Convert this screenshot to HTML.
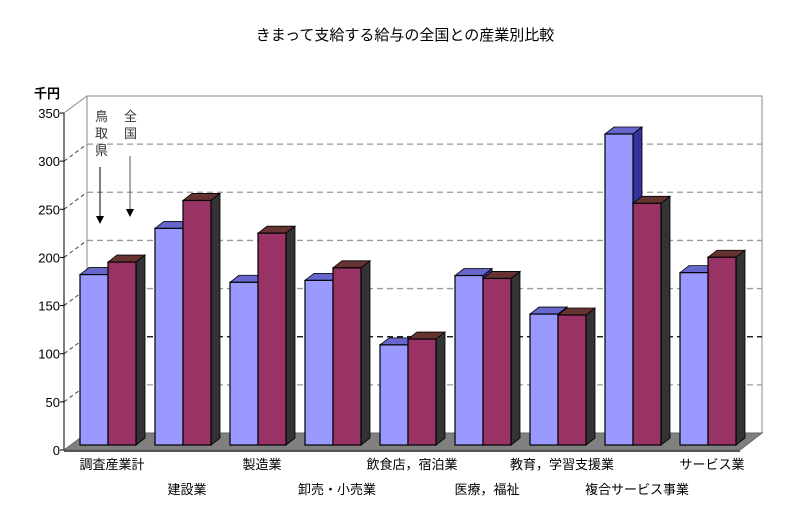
<!DOCTYPE html>
<html><head><meta charset="utf-8"><style>
body{margin:0;background:#fff;width:810px;height:512px;overflow:hidden}
svg{display:block;font-family:"Liberation Sans","Noto Sans CJK JP",sans-serif}
</style></head><body>
<svg id="chart" width="810" height="512" viewBox="0 0 810 512">
<text x="405" y="40" text-anchor="middle" font-size="15" fill="#000">きまって支給する給与の全国との産業別比較</text>
<text x="34" y="98" font-size="13" font-weight="bold">千円</text>
<g id="grid"></g>
<g id="bars"></g>
<g id="axis"></g>
<g font-size="13" fill="#333">
<text x="95" y="121">鳥</text><text x="95" y="138">取</text><text x="95" y="155">県</text>
<text x="124" y="121">全</text><text x="124" y="138">国</text>
<line x1="100" y1="167" x2="100" y2="216" stroke="#000"/><polygon points="96,216 104,216 100,224" fill="#000"/>
<line x1="130" y1="156" x2="130" y2="209" stroke="#555"/><polygon points="126,209 134,209 130,217" fill="#000"/>
</g>
<g id="labels" font-size="13" fill="#000"></g>
</svg>
<script>
const categories=["調査産業計","建設業","製造業","卸売・小売業","飲食店，宿泊業","医療，福祉","教育，学習支援業","複合サービス事業","サービス業"];
const tottori=[177,225,169,171,104,176,136,323,179];
const national=[190,254,220,184,110,173,135,251,195];
const yTicks=[0,50,100,150,200,250,300,350];
const NS="http://www.w3.org/2000/svg";
const X0=64,Y0=450,PX=337/350,DX=23,DY=-17,BASE=445;
const y=v=>Y0-v*PX;
const by=v=>BASE-v*PX;
const gx=i=>80+i*75;
function mk(t,a,p){const e=document.createElementNS(NS,t);for(const k in a)e.setAttribute(k,a[k]);(p||document.getElementById('chart')).appendChild(e);return e;}
const grid=document.getElementById('grid'),axis=document.getElementById('axis'),bars=document.getElementById('bars'),labels=document.getElementById('labels');
// back wall
const wall=mk('rect',{x:X0+DX,y:y(350)+DY,width:762-X0-DX,height:350*PX,fill:'#fff',stroke:'#888'},grid);


mk('line',{x1:X0+DX,y1:y(350)+DY,x2:X0+DX,y2:Y0+DY,stroke:'#888'},grid);
yTicks.forEach(t=>{
 if(t>0&&t<350){
  const g=mk('line',{x1:X0+DX,y1:y(t)+DY,x2:762,y2:y(t)+DY,stroke:t==100?'#000':'#999','stroke-width':1.3,'stroke-dasharray':'6,4'},grid);
  
  
  mk('line',{x1:X0,y1:y(t),x2:X0+DX,y2:y(t)+DY,stroke:'#444','stroke-dasharray':'4,3'},grid);
 }
 const tl=mk('text',{x:X0-4,y:y(t)+5,'text-anchor':'end','font-size':13},axis);
 tl.textContent=t;
 
 
 mk('line',{x1:X0-4,y1:y(t),x2:X0,y2:y(t),stroke:'#000'},axis);
});
mk('line',{x1:X0,y1:y(350),x2:X0,y2:Y0,stroke:'#000'},axis);
mk('line',{x1:X0,y1:y(350),x2:X0+DX,y2:y(350)+DY,stroke:'#888'},axis);
// floor
const fl=mk('polygon',{points:`${X0},${Y0} 740,${Y0} ${762},${Y0+DY} ${X0+DX},${Y0+DY}`,fill:'#808080',stroke:'#666'},grid);


mk('rect',{x:X0,y:Y0,width:676,height:2,fill:'#555'},grid);
function bar(x,v,front,top,side,name){
 const g=mk('g',{},bars);
 
 
 const w=28,d=9,h=7,t=by(v);
 mk('polygon',{points:`${x},${t} ${x+d},${t-h} ${x+w+d},${t-h} ${x+w},${t}`,fill:top,stroke:'#000','stroke-width':0.8},g);
 mk('polygon',{points:`${x+w},${t} ${x+w+d},${t-h} ${x+w+d},${BASE-h} ${x+w},${BASE}`,fill:side,stroke:'#000','stroke-width':0.8},g);
 mk('rect',{x:x,y:t,width:w,height:BASE-t,fill:front,stroke:'#000','stroke-width':1.2},g);
}
categories.forEach((c,i)=>{
 bar(gx(i),tottori[i],'#9999ff','#6666cc','#333399','bar-tottori-'+i);
 bar(gx(i)+28,national[i],'#993366','#663333','#333333','bar-national-'+i);
 const row=i%2;
 const tx=mk('text',{x:gx(i)+32,y:row?494:469,'text-anchor':'middle'},labels);
 tx.textContent=c;
 
 
});
</script>
</body></html>
